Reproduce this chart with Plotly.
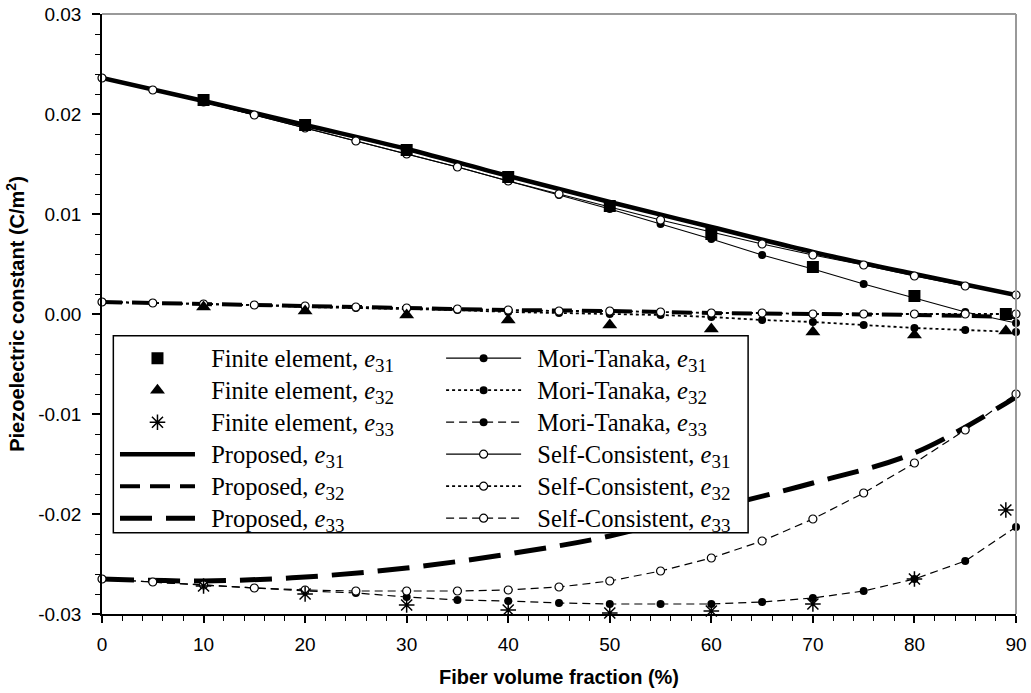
import plotly.graph_objects as go

# ---------------- data ----------------
x_fe = [10, 20, 30, 40, 50, 60, 70, 80, 89]
fe_e31 = [0.0214, 0.0189, 0.0164, 0.0137, 0.0108, 0.0080, 0.0047, 0.0018, 0.0000]
fe_e32 = [0.0007, 0.0003, -0.0001, -0.0006, -0.0011, -0.0015, -0.0018, -0.0021, -0.0017]
fe_e33 = [-0.0272, -0.0280, -0.0291, -0.0296, -0.0299, -0.0297, -0.0290, -0.0265, -0.0196]

x_prop = [0, 10, 20, 30, 40, 50, 60, 70, 80, 90]
prop_e31 = [0.0236, 0.0213, 0.0189, 0.0165, 0.0138, 0.0112, 0.0087, 0.0062, 0.0040, 0.0019]
prop_e32 = [0.0012, 0.0010, 0.0008, 0.0006, 0.0004, 0.0003, 0.0001, 0.0000, -0.0001, -0.0003]
prop_e33 = [-0.0265, -0.0267, -0.0263, -0.0254, -0.0240, -0.0222, -0.0195, -0.0169, -0.0139, -0.0083]

x_mod = [0, 5, 10, 15, 20, 25, 30, 35, 40, 45, 50, 55, 60, 65, 70, 75, 80, 85, 90]
mt_e31 = [0.0236, 0.0224, 0.0212, 0.0199, 0.0186, 0.0173, 0.0160, 0.0147, 0.0133, 0.0119,
          0.0105, 0.0090, 0.0075, 0.0059, 0.0045, 0.0030, 0.0016, 0.0002, -0.0009]
mt_e32 = [0.0012, 0.0011, 0.0010, 0.0009, 0.0007, 0.0006, 0.0005, 0.0004, 0.0002, 0.0001,
          0.0000, -0.0001, -0.0003, -0.0006, -0.0008, -0.0011, -0.0014, -0.0016, -0.0018]
mt_e33 = [-0.0265, -0.0268, -0.0271, -0.0274, -0.0277, -0.0279, -0.0283, -0.0286, -0.0287, -0.0289,
          -0.0290, -0.0290, -0.0290, -0.0288, -0.0284, -0.0277, -0.0265, -0.0247, -0.0213]
sc_e31 = [0.0236, 0.0224, 0.0212, 0.0199, 0.0186, 0.0173, 0.0160, 0.0147, 0.0133, 0.0120,
          0.0107, 0.0094, 0.0082, 0.0070, 0.0059, 0.0049, 0.0038, 0.0028, 0.0019]
sc_e32 = [0.0012, 0.0011, 0.0010, 0.0009, 0.0008, 0.0007, 0.0006, 0.0005, 0.0004, 0.0003,
          0.0003, 0.0002, 0.0001, 0.0001, 0.0000, 0.0000, 0.0000, 0.0000, 0.0000]
sc_e33 = [-0.0265, -0.0268, -0.0271, -0.0274, -0.0276, -0.0277, -0.0277, -0.0277, -0.0276, -0.0273,
          -0.0267, -0.0257, -0.0244, -0.0227, -0.0205, -0.0179, -0.0149, -0.0116, -0.0080]

x_tickvals = [0, 10, 20, 30, 40, 50, 60, 70, 80, 90]
x_ticktext = ["0", "10", "20", "30", "40", "50", "60", "70", "80", "90"]
y_tickvals = [-0.03, -0.02, -0.01, 0.0, 0.01, 0.02, 0.03]
y_ticktext = ["-0.03", "-0.02", "-0.01", "0.00", "0.01", "0.02", "0.03"]

# ---------------- figure ----------------
fig = go.Figure()
BLACK = "black"

def lbl(name, sub):
    return (f"&nbsp;&nbsp;<span style='font-size:24.5px'>{name}, <i>e</i></span>"
            f"<sub><span style='font-size:19px'>{sub}</span></sub>")

# Proposed (thick lines)
fig.add_trace(go.Scatter(x=x_prop, y=prop_e31, mode="lines", line=dict(color=BLACK, width=4.5, shape="spline"),
                         name=lbl("Proposed", "31"), legend="legend", legendgroup="p31", legendrank=4))
fig.add_trace(go.Scatter(x=x_prop, y=prop_e32, mode="lines", line=dict(color=BLACK, width=4, dash="20px,10px", shape="spline"),
                         name=lbl("Proposed", "32"), legend="legend", legendgroup="p32", legendrank=5))
fig.add_trace(go.Scatter(x=x_prop, y=prop_e33, mode="lines", line=dict(color=BLACK, width=5, dash="32px,14px", shape="spline"),
                         name=lbl("Proposed", "33"), legend="legend", legendgroup="p33", legendrank=6))

# Mori-Tanaka (filled circles)
mk_f = dict(symbol="circle", size=8, color=BLACK)
fig.add_trace(go.Scatter(x=x_mod, y=mt_e31, mode="lines+markers", line=dict(color=BLACK, width=1.2), marker=mk_f,
                         name=lbl("Mori-Tanaka", "31"), legend="legend2", legendgroup="m31", legendrank=1, cliponaxis=False))
fig.add_trace(go.Scatter(x=x_mod, y=mt_e32, mode="lines+markers", line=dict(color=BLACK, width=1.8, dash="dot"), marker=mk_f,
                         name=lbl("Mori-Tanaka", "32"), legend="legend2", legendgroup="m32", legendrank=2, cliponaxis=False))
fig.add_trace(go.Scatter(x=x_mod, y=mt_e33, mode="lines+markers", line=dict(color=BLACK, width=1.2, dash="8px,5px"), marker=mk_f,
                         name=lbl("Mori-Tanaka", "33"), legend="legend2", legendgroup="m33", legendrank=3, cliponaxis=False))

# Self-Consistent (open circles)
mk_o = dict(symbol="circle", size=8, color="white", line=dict(color=BLACK, width=1.2))
fig.add_trace(go.Scatter(x=x_mod, y=sc_e31, mode="lines+markers", line=dict(color=BLACK, width=1.2), marker=mk_o,
                         name=lbl("Self-Consistent", "31"), legend="legend2", legendgroup="s31", legendrank=4, cliponaxis=False))
fig.add_trace(go.Scatter(x=x_mod, y=sc_e32, mode="lines+markers", line=dict(color=BLACK, width=1.8, dash="dot"), marker=mk_o,
                         name=lbl("Self-Consistent", "32"), legend="legend2", legendgroup="s32", legendrank=5, cliponaxis=False))
fig.add_trace(go.Scatter(x=x_mod, y=sc_e33, mode="lines+markers", line=dict(color=BLACK, width=1.2, dash="8px,5px"), marker=mk_o,
                         name=lbl("Self-Consistent", "33"), legend="legend2", legendgroup="s33", legendrank=6, cliponaxis=False))

# Finite element (markers)
fig.add_trace(go.Scatter(x=x_fe, y=fe_e31, mode="markers", marker=dict(symbol="square", size=12, color=BLACK),
                         name=lbl("Finite element", "31"), legend="legend", legendgroup="f31", legendrank=1, cliponaxis=False))
fig.add_trace(go.Scatter(x=x_fe, y=fe_e32, mode="markers", marker=dict(symbol="triangle-up", size=13, color=BLACK),
                         name=lbl("Finite element", "32"), legend="legend", legendgroup="f32", legendrank=2, cliponaxis=False))
fig.add_trace(go.Scatter(x=x_fe, y=fe_e33, mode="markers",
                         marker=dict(symbol="asterisk-open", size=13, color=BLACK, line=dict(color=BLACK, width=1.5)),
                         name=lbl("Finite element", "33"), legend="legend", legendgroup="f33", legendrank=3, cliponaxis=False))

legend_font = dict(family="Liberation Serif, Times New Roman, serif", size=22.3, color=BLACK)

fig.update_layout(
    width=1031, height=693,
    margin=dict(l=102, r=15, t=14, b=79, autoexpand=False),
    paper_bgcolor="white", plot_bgcolor="white",
    showlegend=True,
    legend=dict(x=0.0142, y=0.4613, xanchor="left", yanchor="top", bgcolor="rgba(0,0,0,0)", borderwidth=0,
                font=legend_font, itemwidth=75, traceorder="grouped", tracegroupgap=0),
    legend2=dict(x=0.371, y=0.4613, xanchor="left", yanchor="top", bgcolor="rgba(0,0,0,0)", borderwidth=0,
                 font=legend_font, itemwidth=75, traceorder="grouped", tracegroupgap=0),
    font=dict(family="Liberation Sans, Arial, sans-serif", color=BLACK),
    shapes=[
        dict(type="rect", xref="paper", yref="paper", x0=0.0124, x1=0.7069, y0=0.1355, y1=0.4638,
             fillcolor="white", line=dict(color=BLACK, width=1.5), layer="above"),
        dict(type="line", xref="paper", yref="paper", x0=0, x1=1, y0=1, y1=1, line=dict(color="#999999", width=2)),
        dict(type="line", xref="paper", yref="paper", x0=1, x1=1, y0=0, y1=1, line=dict(color="#999999", width=2)),
    ],
)

fig.update_xaxes(
    automargin=False,
    range=[0, 90], tickvals=x_tickvals, ticktext=x_ticktext,
    showgrid=False, zeroline=False, showline=True, linecolor=BLACK, linewidth=1.5,
    ticks="outside", ticklen=7, tickwidth=1.5, tickcolor=BLACK, ticklabelstandoff=5,
    minor=dict(dtick=2, ticks="outside", ticklen=5, tickwidth=1, tickcolor=BLACK),
    tickfont=dict(size=19, family="Liberation Sans, Arial, sans-serif", color=BLACK),
    title=dict(text="<b>Fiber volume fraction (%)</b>", font=dict(size=20, family="Liberation Sans, Arial, sans-serif"),
               standoff=16),
)
fig.update_yaxes(
    automargin=False,
    range=[-0.03, 0.03], tickvals=y_tickvals, ticktext=y_ticktext,
    showgrid=False, zeroline=False, showline=True, linecolor=BLACK, linewidth=1.5,
    ticks="outside", ticklen=8, tickwidth=1.5, tickcolor=BLACK, ticklabelstandoff=7,
    minor=dict(dtick=0.002, ticks="outside", ticklen=5, tickwidth=1, tickcolor=BLACK),
    tickfont=dict(size=19, family="Liberation Sans, Arial, sans-serif", color=BLACK),
    title=dict(text="<b>Piezoelectric constant (C/m<sup>2</sup>)</b>",
               font=dict(size=20, family="Liberation Sans, Arial, sans-serif"), standoff=8),
)

fig.write_html("out.html", config={"displayModeBar": False},
               post_script="document.body.style.margin='0';document.body.style.padding='0';")
